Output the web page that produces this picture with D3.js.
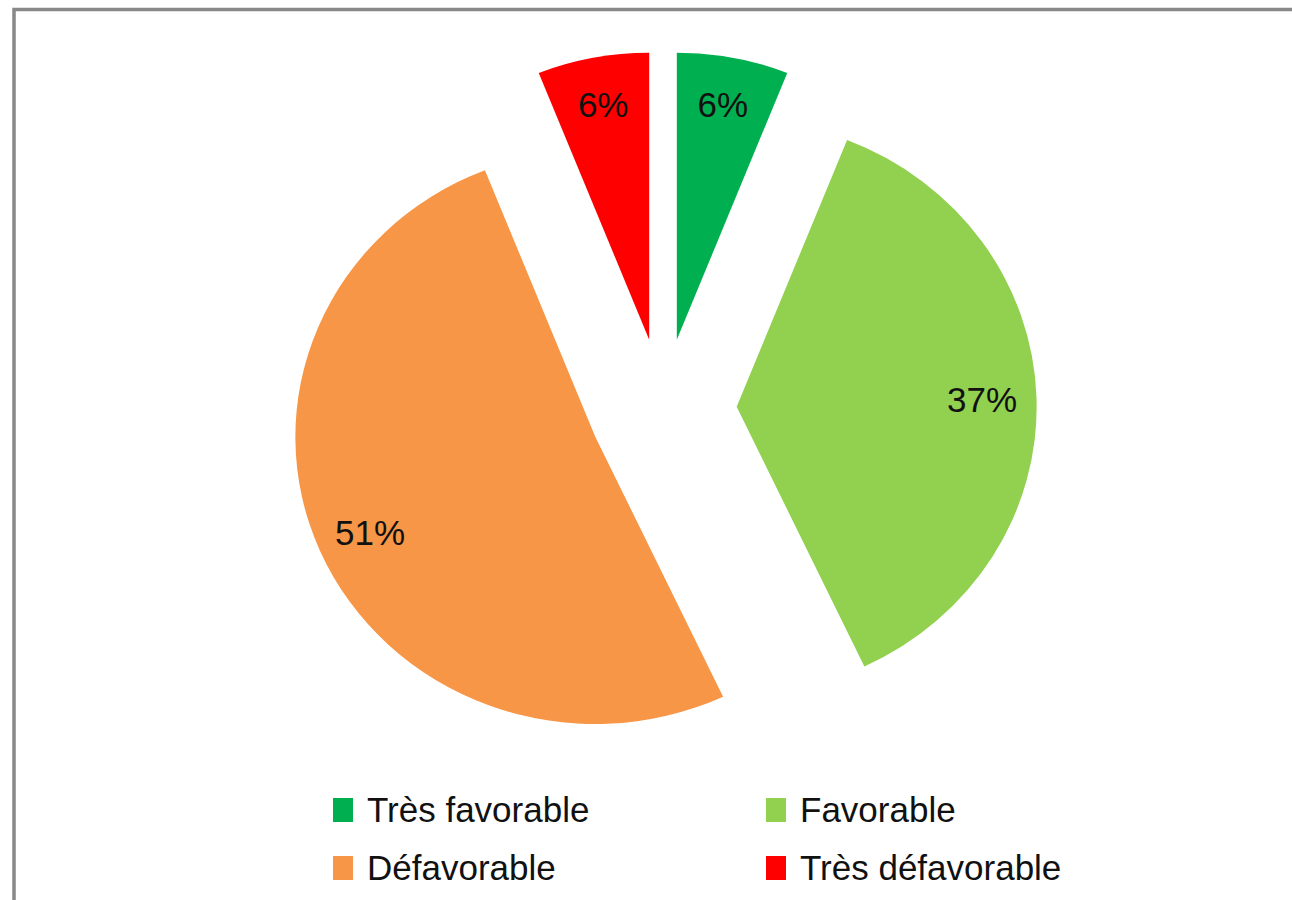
<!DOCTYPE html>
<html>
<head>
<meta charset="utf-8">
<script src="https://cdn.jsdelivr.net/npm/d3@7"></script>
<style>
  html, body { margin: 0; padding: 0; background: #fff; }
  svg { display: block; }
  text { font-family: "Liberation Sans", Arial, sans-serif; }
</style>
</head>
<body>
<svg id="chart" width="1292" height="900"></svg>
<script>
// Opinion shares, in percent, clockwise from 12 o'clock
const categories = ["Très favorable", "Favorable", "Défavorable", "Très défavorable"];
const values = [6, 37, 51, 6];
const colors = ["#00B050", "#92D050", "#F79646", "#FF0000"];
const labels = values.map(v => v + "%");

const W = 1292, H = 900;
const svg = d3.select("#chart");

// Chart frame (only its top and left edges fall inside the page)
svg.append("rect")
  .attr("x", 14).attr("y", 9.5)
  .attr("width", W + 20).attr("height", H + 20)
  .attr("fill", "none")
  .attr("stroke", "#888888")
  .attr("stroke-width", 3.5);

// Pie geometry: slightly wider than tall
const cx = 663, cy = 409;
const r = 287;
const sx = 300 / 287;
const explode = 70.5;      // distance each slice is pulled out
const labelFrac = 0.835;   // label distance as a fraction of the radius

const pie = d3.pie().sort(null).value(d => d).startAngle(0).endAngle(2 * Math.PI);
const arcs = pie(values);
const arc = d3.arc().innerRadius(0).outerRadius(r);

const pieG = svg.append("g")
  .attr("transform", `translate(${cx},${cy}) scale(${sx},1)`);

pieG.selectAll("path.slice")
  .data(arcs)
  .join("path")
  .attr("class", "slice")
  .attr("d", arc)
  .attr("fill", (d, i) => colors[i])
  .attr("transform", d => {
    const m = (d.startAngle + d.endAngle) / 2;
    return `translate(${Math.sin(m) * explode},${-Math.cos(m) * explode})`;
  });

// Percentage labels, placed in page space so the text is not stretched
svg.selectAll("text.pct")
  .data(arcs)
  .join("text")
  .attr("class", "pct")
  .attr("x", d => {
    const m = (d.startAngle + d.endAngle) / 2;
    return cx + sx * Math.sin(m) * (explode + r * labelFrac * 0.98);
  })
  .attr("y", d => {
    const m = (d.startAngle + d.endAngle) / 2;
    return cy - Math.cos(m) * (explode + r * labelFrac);
  })
  .attr("text-anchor", "middle")
  .attr("dominant-baseline", "central")
  .attr("font-size", 35)
  .attr("fill", "#111")
  .text((d, i) => labels[i]);

// Legend: two columns, two rows
const legendX = d3.scaleOrdinal().domain([0, 1]).range([333, 766]);
const legendY = d3.scaleOrdinal().domain([0, 1]).range([810, 868]);

const leg = svg.selectAll("g.legend")
  .data(categories)
  .join("g")
  .attr("class", "legend")
  .attr("transform", (d, i) => `translate(${legendX(i % 2)},${legendY(Math.floor(i / 2))})`);

leg.append("rect")
  .attr("x", 0).attr("y", -12)
  .attr("width", 20).attr("height", 24)
  .attr("fill", (d, i) => colors[i]);

leg.append("text")
  .attr("x", 34)
  .attr("y", 12)
  .attr("font-size", 35)
  .attr("fill", "#111")
  .text(d => d);
</script>
</body>
</html>
